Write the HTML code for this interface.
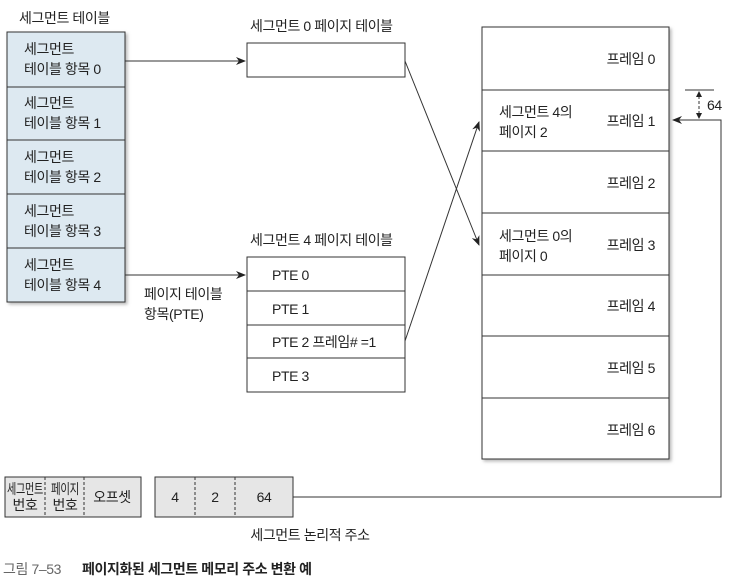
<!DOCTYPE html>
<html><head><meta charset="utf-8"><style>
html,body{margin:0;padding:0;background:#fff}
svg text{font-family:"Liberation Sans","Noto Sans CJK KR",sans-serif;fill:#222;font-size:14px;letter-spacing:-0.4px}
</style></head><body>
<svg width="729" height="582" viewBox="0 0 729 582" xmlns="http://www.w3.org/2000/svg">
<defs>
<marker id="a" markerWidth="10" markerHeight="8" refX="9" refY="4" orient="auto" markerUnits="userSpaceOnUse"><path d="M0,0 L10,4 L0,8 L3,4 z" fill="#222"/></marker>
<filter id="sh" x="-10%" y="-10%" width="130%" height="130%"><feDropShadow dx="2" dy="2" stdDeviation="1.5" flood-color="#888" flood-opacity="0.6"/></filter>
</defs>
<g stroke="#333" stroke-width="1" fill="none">
<rect x="7" y="32" width="118" height="270" fill="#dde9f1" filter="url(#sh)"/>
<line x1="7" y1="87" x2="125" y2="87"/><line x1="7" y1="140" x2="125" y2="140"/>
<line x1="7" y1="194" x2="125" y2="194"/><line x1="7" y1="248" x2="125" y2="248"/>
<rect x="247" y="43" width="158" height="34" fill="#fff"/>
<rect x="247" y="257" width="158" height="135" fill="#fff"/>
<line x1="247" y1="291" x2="405" y2="291"/><line x1="247" y1="325" x2="405" y2="325"/><line x1="247" y1="358" x2="405" y2="358"/>
<rect x="482" y="27" width="187" height="432" fill="#fff" filter="url(#sh)"/>
<line x1="482" y1="90" x2="669" y2="90"/><line x1="482" y1="151" x2="669" y2="151"/><line x1="482" y1="213" x2="669" y2="213"/>
<line x1="482" y1="275" x2="669" y2="275"/><line x1="482" y1="336" x2="669" y2="336"/><line x1="482" y1="398" x2="669" y2="398"/>
<rect x="5" y="477" width="136" height="40" fill="#e6e6e6"/>
<line x1="45" y1="477" x2="45" y2="517" stroke-dasharray="3,2"/><line x1="84" y1="477" x2="84" y2="517" stroke-dasharray="3,2"/>
<rect x="155" y="477" width="138" height="40" fill="#e6e6e6"/>
<line x1="195" y1="477" x2="195" y2="517" stroke-dasharray="3,2"/><line x1="235" y1="477" x2="235" y2="517" stroke-dasharray="3,2"/>
<line x1="125" y1="61" x2="245" y2="61" marker-end="url(#a)"/>
<line x1="125" y1="275" x2="245" y2="275" marker-end="url(#a)"/>
<line x1="405" y1="61" x2="479" y2="245" marker-end="url(#a)"/>
<line x1="405" y1="341" x2="479" y2="122" marker-end="url(#a)"/>
<polyline points="293,497 721,497 721,120 673,120" marker-end="url(#a)"/>
<line x1="685" y1="90" x2="714" y2="90"/>
<line x1="699" y1="96" x2="699" y2="114" stroke-dasharray="3,2"/>
</g>
<path d="M696,97 L699,91 L702,97z M696,113 L699,119 L702,113z" fill="#222"/>
<text x="19" y="23">세그먼트 테이블</text>
<g>
<text x="24" y="54">세그먼트</text><text x="24" y="74">테이블 항목 0</text>
<text x="24" y="108">세그먼트</text><text x="24" y="128">테이블 항목 1</text>
<text x="24" y="162">세그먼트</text><text x="24" y="182">테이블 항목 2</text>
<text x="24" y="216">세그먼트</text><text x="24" y="236">테이블 항목 3</text>
<text x="24" y="270">세그먼트</text><text x="24" y="290">테이블 항목 4</text>
</g>
<text x="250" y="31">세그먼트 0 페이지 테이블</text>
<text x="250" y="245">세그먼트 4 페이지 테이블</text>
<text x="144" y="299">페이지 테이블</text><text x="144" y="319">항목(PTE)</text>
<text x="272" y="280">PTE 0</text><text x="272" y="314">PTE 1</text>
<text x="272" y="347">PTE 2 프레임# =1</text><text x="272" y="381">PTE 3</text>
<g text-anchor="end">
<text x="655" y="64">프레임 0</text><text x="655" y="126">프레임 1</text><text x="655" y="188">프레임 2</text>
<text x="655" y="250">프레임 3</text><text x="655" y="311">프레임 4</text><text x="655" y="373">프레임 5</text><text x="655" y="435">프레임 6</text>
</g>
<text x="499" y="117">세그먼트 4의</text><text x="499" y="137">페이지 2</text>
<text x="499" y="241">세그먼트 0의</text><text x="499" y="261">페이지 0</text>
<text x="707" y="110" font-size="12">64</text>
<g font-size="11" text-anchor="middle" style="letter-spacing:-1px">
<text x="25" y="494" textLength="36" lengthAdjust="spacingAndGlyphs">세그먼트</text><text x="25" y="510">번호</text>
<text x="65" y="494" textLength="28" lengthAdjust="spacingAndGlyphs">페이지</text><text x="65" y="510">번호</text>
<text x="112" y="502">오프셋</text>
</g>
<g text-anchor="middle" font-size="14">
<text x="175" y="502">4</text><text x="215" y="502">2</text><text x="264" y="502">64</text>
</g>
<text x="310" y="540" text-anchor="middle">세그먼트 논리적 주소</text>
<text x="3" y="574" style="fill:#666">그림 7–53</text>
<text x="82" y="574" font-weight="bold">페이지화된 세그먼트 메모리 주소 변환 예</text>
</svg>
</body></html>
